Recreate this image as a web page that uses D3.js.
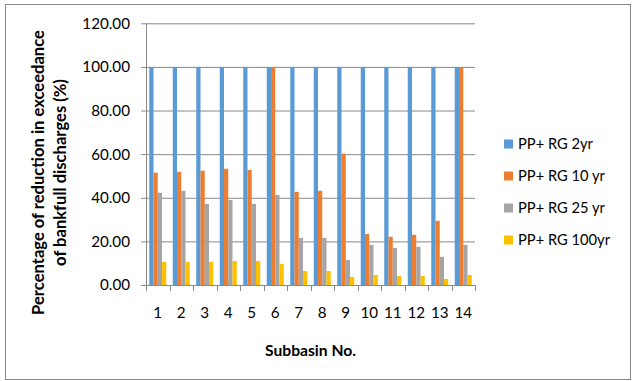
<!DOCTYPE html>
<html><head><meta charset="utf-8">
<script src="https://cdn.jsdelivr.net/npm/d3@7"></script>
<style>body{margin:0;background:#fff;} text{font-family:Lato,'Open Sans',sans-serif;}</style>
</head><body>
<svg id="chart" width="636" height="381"></svg>
<script>
const categories = ["1","2","3","4","5","6","7","8","9","10","11","12","13","14"];
const seriesNames = ["PP+ RG 2yr","PP+ RG 10 yr","PP+ RG 25 yr","PP+ RG 100yr"];
const rg2yr   = [100,100,100,100,100,100,100,100,100,100,100,100,100,100];
const rg10yr  = [51.5,51.9,52.4,53.3,52.8,100,42.7,43.2,60.2,23.4,22.1,23.0,29.4,100];
const rg25yr  = [42.3,43.2,37.2,39.0,37.2,41.3,21.6,21.6,11.5,18.4,17.0,17.5,12.9,18.4];
const rg100yr = [10.6,10.6,10.6,11.0,11.0,9.6,6.4,6.4,3.7,4.6,4.1,4.1,2.8,4.6];
const yTicks = [0,20,40,60,80,100,120];
const colors = ["#5B9BD5","#ED7D31","#A5A5A5","#FFC000"];
const seriesValues = [rg2yr, rg10yr, rg25yr, rg100yr];

const svg = d3.select("#chart");
svg.append("rect").attr("x",5.5).attr("y",4.5).attr("width",625).attr("height",375)
  .attr("fill","#fff").attr("stroke","#898989").attr("stroke-width",1);

// fit a font size so a sample string reaches a target width
function fitSize(str, target, weight){
  const t = svg.append("text").attr("font-size",20).attr("font-weight",weight||"normal").text(str);
  const w = t.node().getComputedTextLength(); t.remove();
  return 20*target/w;
}
const fsTick = fitSize("120.00", 47.7);
const fsLeg = fitSize("PP+ RG 2yr", 75);
const fsX = fitSize("Subbasin No.", 91, "bold");
const fsY = fitSize("Percentage of reduction in exceedance", 285, "bold");

const pLeft=146, pRight=475, pTop=23.3, pBottom=285;
const x0 = d3.scaleBand().domain(categories).range([pLeft,pRight]).paddingInner(0).paddingOuter(0);
const x1 = d3.scaleBand().domain(seriesNames).range([0,x0.bandwidth()]).paddingInner(0).paddingOuter(0.765);
const y = d3.scaleLinear().domain([0,120]).range([pBottom,pTop]);

// gridlines + y axis
const yAxis = d3.axisLeft(y).tickValues(yTicks).tickSize(5).tickFormat(d=>d3.format(".2f")(d));
const gy = svg.append("g").attr("transform",`translate(${pLeft},0)`).call(yAxis);
gy.select(".domain").remove();
gy.selectAll(".tick line").attr("stroke","#898989").attr("x2",-5);
gy.selectAll(".tick").filter(d=>d>0).append("line").attr("x1",0).attr("x2",pRight-pLeft)
  .attr("stroke","#898989");
gy.selectAll(".tick text").attr("x",-16).attr("font-size",fsTick).attr("fill","#000")
  .style("font-family","Lato,sans-serif");
svg.append("line").attr("x1",pLeft+0.5).attr("x2",pLeft+0.5).attr("y1",pTop).attr("y2",pBottom)
  .attr("stroke","#898989");

// bars
const groups = svg.append("g").selectAll("g").data(categories).join("g")
  .attr("transform",d=>`translate(${x0(d)},0)`);
groups.selectAll("rect").data((d,i)=>seriesNames.map((s,j)=>({s,j,v:seriesValues[j][i]})))
  .join("rect")
  .attr("x",d=>x1(d.s)).attr("width",x1.bandwidth())
  .attr("y",d=>y(d.v)).attr("height",d=>pBottom-y(d.v))
  .attr("fill",d=>colors[d.j]);

// x axis
const xAxis = d3.axisBottom(x0).tickSize(0).tickPadding(0);
const gx = svg.append("g").attr("transform",`translate(0,${pBottom})`).call(xAxis);
gx.select(".domain").attr("stroke","#898989").attr("d",`M${pLeft},0.5H${pRight}`);
gx.selectAll(".tick text").attr("y",33).attr("dy",0).attr("font-size",fsTick).attr("fill","#000")
  .style("font-family","Lato,sans-serif");
const bounds = categories.map(c=>x0(c)).concat([pRight]);
gx.selectAll("line.bound").data(bounds).join("line").attr("class","bound")
  .attr("x1",d=>Math.round(d)+0.5).attr("x2",d=>Math.round(d)+0.5).attr("y1",0).attr("y2",6)
  .attr("stroke","#898989");

// axis titles
svg.append("text").attr("x",(pLeft+pRight)/2).attr("y",356).attr("text-anchor","middle")
  .attr("font-size",fsX).attr("font-weight","bold").text("Subbasin No.");
const yt = svg.append("text").attr("transform","translate(44,172.5) rotate(-90)")
  .attr("text-anchor","middle").attr("font-size",fsY).attr("font-weight","bold");
yt.append("tspan").attr("x",0).attr("y",0).text("Percentage of reduction in exceedance");
yt.append("tspan").attr("x",0).attr("y",22).text("of bankfull  discharges (%)");

// legend
const leg = svg.append("g").selectAll("g").data(seriesNames).join("g")
  .attr("transform",(d,i)=>`translate(504,${144+i*32})`);
leg.append("rect").attr("x",0).attr("y",-4.5).attr("width",9).attr("height",9)
  .attr("fill",(d,i)=>colors[i]);
leg.append("text").attr("x",14).attr("y",0).attr("dy","0.35em").attr("font-size",fsLeg)
  .attr("fill","#000").text(d=>d);
</script>
</body></html>
